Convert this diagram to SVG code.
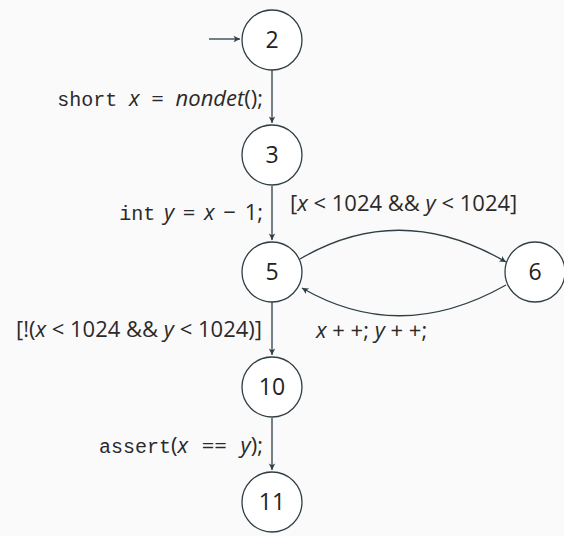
<svg xmlns="http://www.w3.org/2000/svg" width="564" height="536" viewBox="0 0 564 536">
<defs>
<marker id="arr" viewBox="0 0 10 10" refX="9" refY="5" markerWidth="8" markerHeight="8" orient="auto" markerUnits="userSpaceOnUse">
<path d="M1,1 L9,5 L1,9 L3,5 Z" fill="#2f3f45"/>
</marker>
<style>
.n{fill:#ffffff;stroke:#2f3f45;stroke-width:1.3}
.e{fill:none;stroke:#2f3f45;stroke-width:1.3;marker-end:url(#arr)}
.t{font-family:"Open Sans","Liberation Sans",sans-serif;font-size:22px;fill:#2a2a2a}
.c{font-family:"Open Sans","Liberation Sans",sans-serif;font-size:23px;fill:#222;text-anchor:middle}
.m{font-family:"Liberation Mono","DejaVu Sans Mono",monospace;font-size:20px}
.i{font-style:italic}
</style>
</defs>
<rect width="564" height="536" fill="#fafafa"/>
<g id="edges">
<path class="e" d="M209,39 L240,39"/>
<path class="e" d="M272,70 L272,123"/>
<path class="e" d="M272,186 L272,240"/>
<path class="e" d="M300,259 Q400,200 506,262"/>
<path class="e" d="M506,285 Q400,345 302,288"/>
<path class="e" d="M272,302 L272,355"/>
<path class="e" d="M272,418 L272,470"/>
</g>
<g id="n2"><circle class="n" cx="272" cy="40" r="30"/><text class="c" x="272" y="48">2</text></g>
<g id="n3"><circle class="n" cx="272" cy="155" r="30"/><text class="c" x="272" y="163">3</text></g>
<g id="n5"><circle class="n" cx="272" cy="272" r="30"/><text class="c" x="272" y="280">5</text></g>
<g id="n6"><circle class="n" cx="535" cy="272" r="30"/><text class="c" x="535" y="280">6</text></g>
<g id="n10"><circle class="n" cx="272" cy="387" r="30"/><text class="c" x="272" y="395">10</text></g>
<g id="n11"><circle class="n" cx="272" cy="502" r="30"/><text class="c" x="272" y="510">11</text></g>
<g id="labels">
<text class="t" x="263" y="106" text-anchor="end" word-spacing="6"><tspan class="m">short</tspan> <tspan class="i">x</tspan> = <tspan class="i">nondet</tspan>();</text>
<text class="t" x="263" y="220" text-anchor="end" word-spacing="3"><tspan class="m">int</tspan> <tspan class="i">y</tspan> = <tspan class="i">x</tspan> − 1;</text>
<text class="t" x="290" y="211">[<tspan class="i">x</tspan> &lt; 1024 &amp;&amp; <tspan class="i">y</tspan> &lt; 1024]</text>
<text class="t" x="262" y="337" text-anchor="end">[!(<tspan class="i">x</tspan> &lt; 1024 &amp;&amp; <tspan class="i">y</tspan> &lt; 1024)]</text>
<text class="t" x="316" y="338"><tspan class="i">x</tspan> + +; <tspan class="i">y</tspan> + +;</text>
<text class="t" x="263" y="453" text-anchor="end" word-spacing="8"><tspan class="m">assert</tspan>(<tspan class="i">x</tspan> == <tspan class="i">y</tspan>);</text>
</g>
</svg>
